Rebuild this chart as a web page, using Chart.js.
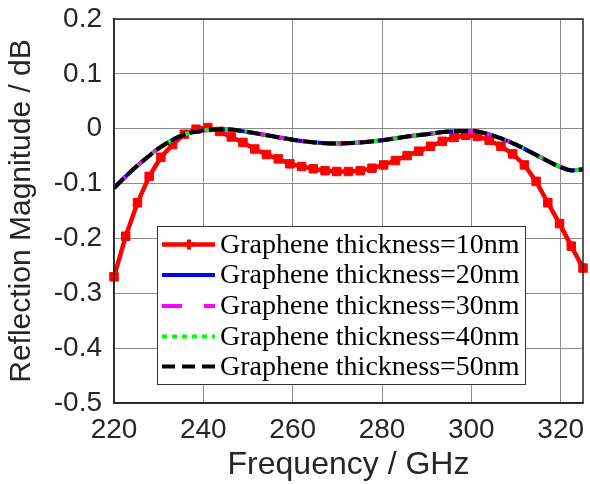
<!DOCTYPE html>
<html>
<head>
<meta charset="utf-8">
<script src="https://cdn.jsdelivr.net/npm/chart.js@4.4.0/dist/chart.umd.min.js"></script>
<style>
    html, body { margin: 0; padding: 0; background: #fff; }
    #wrap { width: 590px; height: 484px; }
</style>
</head>
<body>
<div id="wrap"><canvas id="chart" width="590" height="484"></canvas></div>
<script>
// x axis / y axis ticks
const xTicks = [220, 240, 260, 280, 300, 320];
const yTicks = [0.2, 0.1, 0, -0.1, -0.2, -0.3, -0.4, -0.5];

// 10nm curve (with markers)
const freq10 = [220, 222.625, 225.25, 227.875, 230.5, 233.125, 235.75, 238.375, 241, 243.625,
    246.25, 248.875, 251.5, 254.125, 256.75, 259.375, 262, 264.625, 267.25, 269.875,
    272.5, 275.125, 277.75, 280.375, 283, 285.625, 288.25, 290.875, 293.5, 296.125,
    298.75, 301.375, 304, 306.625, 309.25, 311.875, 314.5, 317.125, 319.75, 322.375, 325];
const refl10 = [-0.270, -0.196, -0.135, -0.087, -0.052, -0.029, -0.010, -0.001, 0.002, -0.005,
    -0.015, -0.025, -0.037, -0.047, -0.055, -0.064, -0.069, -0.073, -0.0765, -0.078,
    -0.078, -0.0765, -0.072, -0.066, -0.058, -0.049, -0.041, -0.032, -0.023, -0.016,
    -0.012, -0.014, -0.021, -0.032, -0.046, -0.066, -0.096, -0.135, -0.173, -0.214, -0.254];

// 20..50nm curves lie on top of each other
const freqThick = [220, 222.5, 225, 227.5, 230, 235, 240, 245, 250, 255, 260, 265, 270,
    275, 280, 285, 290, 295, 300, 305, 310, 315, 320, 322.5, 325];
const refl20 = [-0.108, -0.088, -0.069, -0.052, -0.036, -0.013, -0.003, -0.001, -0.006, -0.013,
    -0.020, -0.025, -0.027, -0.025, -0.021, -0.015, -0.010, -0.005, -0.004, -0.013,
    -0.029, -0.050, -0.070, -0.076, -0.074];
const refl30 = refl20.slice();
const refl40 = refl20.slice();
const refl50 = refl20.slice();

const labels = ['Graphene thickness=10nm', 'Graphene thickness=20nm', 'Graphene thickness=30nm',
    'Graphene thickness=40nm', 'Graphene thickness=50nm'];

const toPts = (xs, ys) => xs.map((x, i) => ({ x: x, y: ys[i] }));
const axisColor = '#262626';

// boxed legend inside the plot, like the MATLAB figure
const boxLegend = {
    id: 'boxLegend',
    afterDraw(chart) {
        const ctx = chart.ctx;
        const area = chart.chartArea;
        ctx.save();
        // frame on all four sides
        ctx.strokeStyle = axisColor;
        ctx.lineWidth = 1.5;
        ctx.strokeRect(area.left, area.top, area.right - area.left, area.bottom - area.top);

        const bx = 157, by = 226, bw = 368, bh = 158;
        ctx.fillStyle = '#fff';
        ctx.fillRect(bx, by, bw, bh);
        ctx.strokeStyle = '#333';
        ctx.lineWidth = 1;
        ctx.strokeRect(bx + 0.5, by + 0.5, bw, bh);

        const rowY = [244.5, 275, 306, 336.5, 366.5];
        chart.data.datasets.forEach((ds, i) => {
            const y = rowY[i];
            ctx.save();
            ctx.strokeStyle = ds.borderColor;
            ctx.lineWidth = ds.borderWidth;
            ctx.lineCap = 'butt';
            ctx.setLineDash(ds.legendDash || []);
            ctx.beginPath();
            ctx.moveTo(162, y);
            ctx.lineTo(215, y);
            ctx.stroke();
            ctx.restore();
            if (ds.pointRadius > 0) {
                ctx.save();
                ctx.strokeStyle = ds.borderColor;
                ctx.lineWidth = 4;
                ctx.beginPath();
                ctx.moveTo(189, y - 5); ctx.lineTo(189, y + 5);
                ctx.moveTo(184, y); ctx.lineTo(194, y);
                ctx.stroke();
                ctx.restore();
            }
            ctx.fillStyle = '#000';
            ctx.font = '28px "Liberation Serif", "Times New Roman", serif';
            ctx.textBaseline = 'middle';
            ctx.textAlign = 'left';
            ctx.fillText(ds.label, 220, y + 1);
        });
        ctx.restore();
    }
};

document.addEventListener('DOMContentLoaded', function () {
    const ctx = document.getElementById('chart').getContext('2d');
    const lineBase = { fill: false, pointRadius: 0, cubicInterpolationMode: 'monotone', borderWidth: 4 };

    new Chart(ctx, {
        type: 'line',
        data: {
            datasets: [
                {
                    label: labels[0], data: toPts(freq10, refl10),
                    borderColor: '#ff0000', backgroundColor: '#ff0000', borderWidth: 4.5,
                    pointStyle: 'rect', pointRadius: 6, pointBorderWidth: 1,
                    pointBorderColor: '#ff0000', tension: 0, order: 5, clip: false
                },
                Object.assign({}, lineBase, {
                    label: labels[1], data: toPts(freqThick, refl20),
                    borderColor: '#0000ff', order: 4
                }),
                Object.assign({}, lineBase, {
                    label: labels[2], data: toPts(freqThick, refl30),
                    borderColor: '#ff00ff', borderDash: [16, 10], legendDash: [20, 22], order: 3
                }),
                Object.assign({}, lineBase, {
                    label: labels[3], data: toPts(freqThick, refl40),
                    borderColor: '#00ff00', borderDash: [4, 6], legendDash: [5, 5], order: 2
                }),
                Object.assign({}, lineBase, {
                    label: labels[4], data: toPts(freqThick, refl50),
                    borderColor: '#000000', borderDash: [14, 5], legendDash: [13, 7], order: 1
                })
            ]
        },
        options: {
            responsive: false,
            animation: false,
            layout: { padding: { top: 19, right: 5, left: 0, bottom: 0 } },
            plugins: {
                legend: { display: false },
                tooltip: { enabled: false }
            },
            scales: {
                x: {
                    type: 'linear', min: 220, max: 325,
                    afterBuildTicks: s => { s.ticks = xTicks.map(v => ({ value: v })); },
                    afterFit: s => { s.height = 81; s.paddingLeft = 0; s.paddingRight = 0; },
                    grid: { color: '#8c8c8c', lineWidth: 1, drawTicks: false },
                    border: { color: axisColor, width: 1.5 },
                    ticks: {
                        color: axisColor, padding: 10, maxRotation: 0, autoSkip: false,
                        font: { family: '"Liberation Sans", Arial, sans-serif', size: 28 }
                    },
                    title: {
                        display: true, text: 'Frequency / GHz', color: axisColor,
                        font: { family: '"Liberation Sans", Arial, sans-serif', size: 32 },
                        padding: { top: 0, bottom: 0 }
                    }
                },
                y: {
                    type: 'linear', min: -0.5, max: 0.2,
                    afterBuildTicks: s => { s.ticks = yTicks.map(v => ({ value: v })); },
                    afterFit: s => { s.width = 114; s.paddingTop = 0; s.paddingBottom = 0; },
                    grid: { color: '#8c8c8c', lineWidth: 1, drawTicks: false },
                    border: { color: axisColor, width: 1.5 },
                    ticks: {
                        color: axisColor, padding: 12, autoSkip: false,
                        font: { family: '"Liberation Sans", Arial, sans-serif', size: 28 },
                        callback: v => (Math.abs(v) < 1e-9 ? '0' : v.toFixed(1))
                    },
                    title: {
                        display: true, text: 'Reflection Magnitude / dB', color: axisColor,
                        font: { family: '"Liberation Sans", Arial, sans-serif', size: 30 },
                        padding: { top: 4, bottom: 0 }
                    }
                }
            }
        },
        plugins: [boxLegend]
    });
});
</script>
</body>
</html>
